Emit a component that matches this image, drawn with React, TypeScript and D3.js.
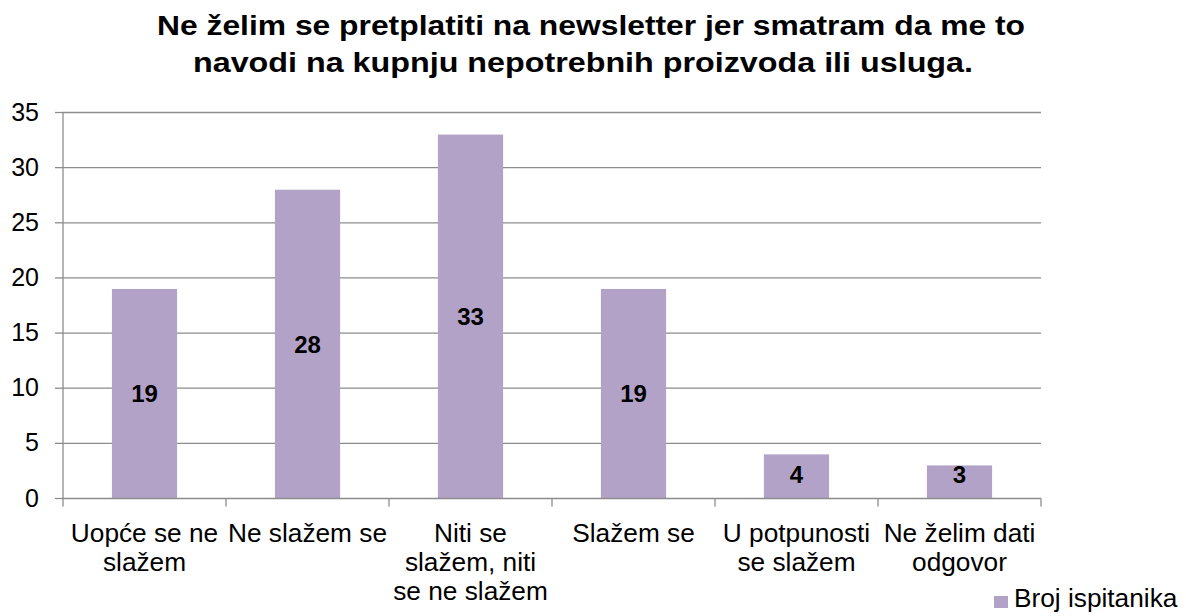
import React from "react";
import * as d3 from "d3";

const titleLines = [
  "Ne želim se pretplatiti na newsletter jer smatram da me to",
  "navodi na kupnju nepotrebnih proizvoda ili usluga.",
];
const categories = [
  ["Uopće se ne", "slažem"],
  ["Ne slažem se"],
  ["Niti se", "slažem, niti", "se ne slažem"],
  ["Slažem se"],
  ["U potpunosti", "se slažem"],
  ["Ne želim dati", "odgovor"],
];
const values = [19, 28, 33, 19, 4, 3];
const yTicks = [0, 5, 10, 15, 20, 25, 30, 35];
const seriesName = "Broj ispitanika";

const W = 1186;
const H = 616;
const left = 63;
const right = 1041;
const top = 112.5;
const bottom = 498.5;
const barColor = "#B3A2C7";
const gridColor = "#8C8C8C";
const font = "'Liberation Sans', Arial, sans-serif";
const titleStarts = [157, 193];
const titleWidths = [868, 780];
const sx = 1.05;

export default function App() {
  const idx = categories.map((_, i) => String(i));
  const x = d3.scaleBand().domain(idx).range([left, right]).paddingInner(0.6).paddingOuter(0.3);
  const band = d3.scaleBand().domain(idx).range([left, right]);
  const y = d3.scaleLinear().domain([0, 35]).range([bottom, top]);

  return (
    <svg
      width={W}
      height={H}
      style={{ position: "absolute", left: 0, top: 0, display: "block", fontFamily: font }}
    >
      <rect width={W} height={H} fill="#fff" />
      {titleLines.map((t, i) => (
        <text
          key={i}
          x={titleStarts[i]}
          y={35 + i * 37}
          fontSize={28}
          fontWeight="bold"
          fill="#000"
          textLength={titleWidths[i]}
          lengthAdjust="spacingAndGlyphs"
        >
          {t}
        </text>
      ))}
      {yTicks.map((t) => (
        <g key={t}>
          {t > 0 && (
            <line x1={left} x2={right} y1={y(t)} y2={y(t)} stroke={gridColor} strokeWidth={1.3} />
          )}
          <line x1={left - 8} x2={left} y1={y(t)} y2={y(t)} stroke={gridColor} strokeWidth={1.3} />
          <text x={39} y={y(t) + 8} textAnchor="end" fontSize={25} fill="#000">
            {t}
          </text>
        </g>
      ))}
      {values.map((v, i) => {
        const bx = x(String(i))!;
        const by = y(v);
        const center = (by + y(0)) / 2;
        const ly = Math.min(center, y(0) - 24);
        return (
          <g key={i}>
            <rect x={bx} y={by} width={x.bandwidth()} height={y(0) - by} fill={barColor} />
            <text
              x={bx + x.bandwidth() / 2}
              y={ly + 8.5}
              textAnchor="middle"
              fontSize={24}
              fontWeight="bold"
              fill="#000"
            >
              {v}
            </text>
          </g>
        );
      })}
      <line x1={left} x2={left} y1={top} y2={bottom} stroke={gridColor} strokeWidth={1.3} />
      <line x1={left} x2={right} y1={bottom} y2={bottom} stroke={gridColor} strokeWidth={1.3} />
      {idx.concat([String(categories.length)]).map((k, i) => {
        const tx = left + i * band.bandwidth();
        return (
          <line key={k} x1={tx} x2={tx} y1={bottom} y2={bottom + 8} stroke={gridColor} strokeWidth={1.3} />
        );
      })}
      {categories.map((lines, i) => {
        const cx = band(String(i))! + band.bandwidth() / 2;
        return (
          <g key={i}>
            {lines.map((l, j) => (
              <text
                key={j}
                transform={`translate(${cx},${542 + j * 29}) scale(${sx},1)`}
                textAnchor="middle"
                fontSize={25}
                fill="#000"
              >
                {l}
              </text>
            ))}
          </g>
        );
      })}
      <rect x={994} y={596} width={14} height={12} fill={barColor} />
      <text transform={`translate(1014,607) scale(${sx},1)`} fontSize={25} fill="#000">
        {seriesName}
      </text>
    </svg>
  );
}
